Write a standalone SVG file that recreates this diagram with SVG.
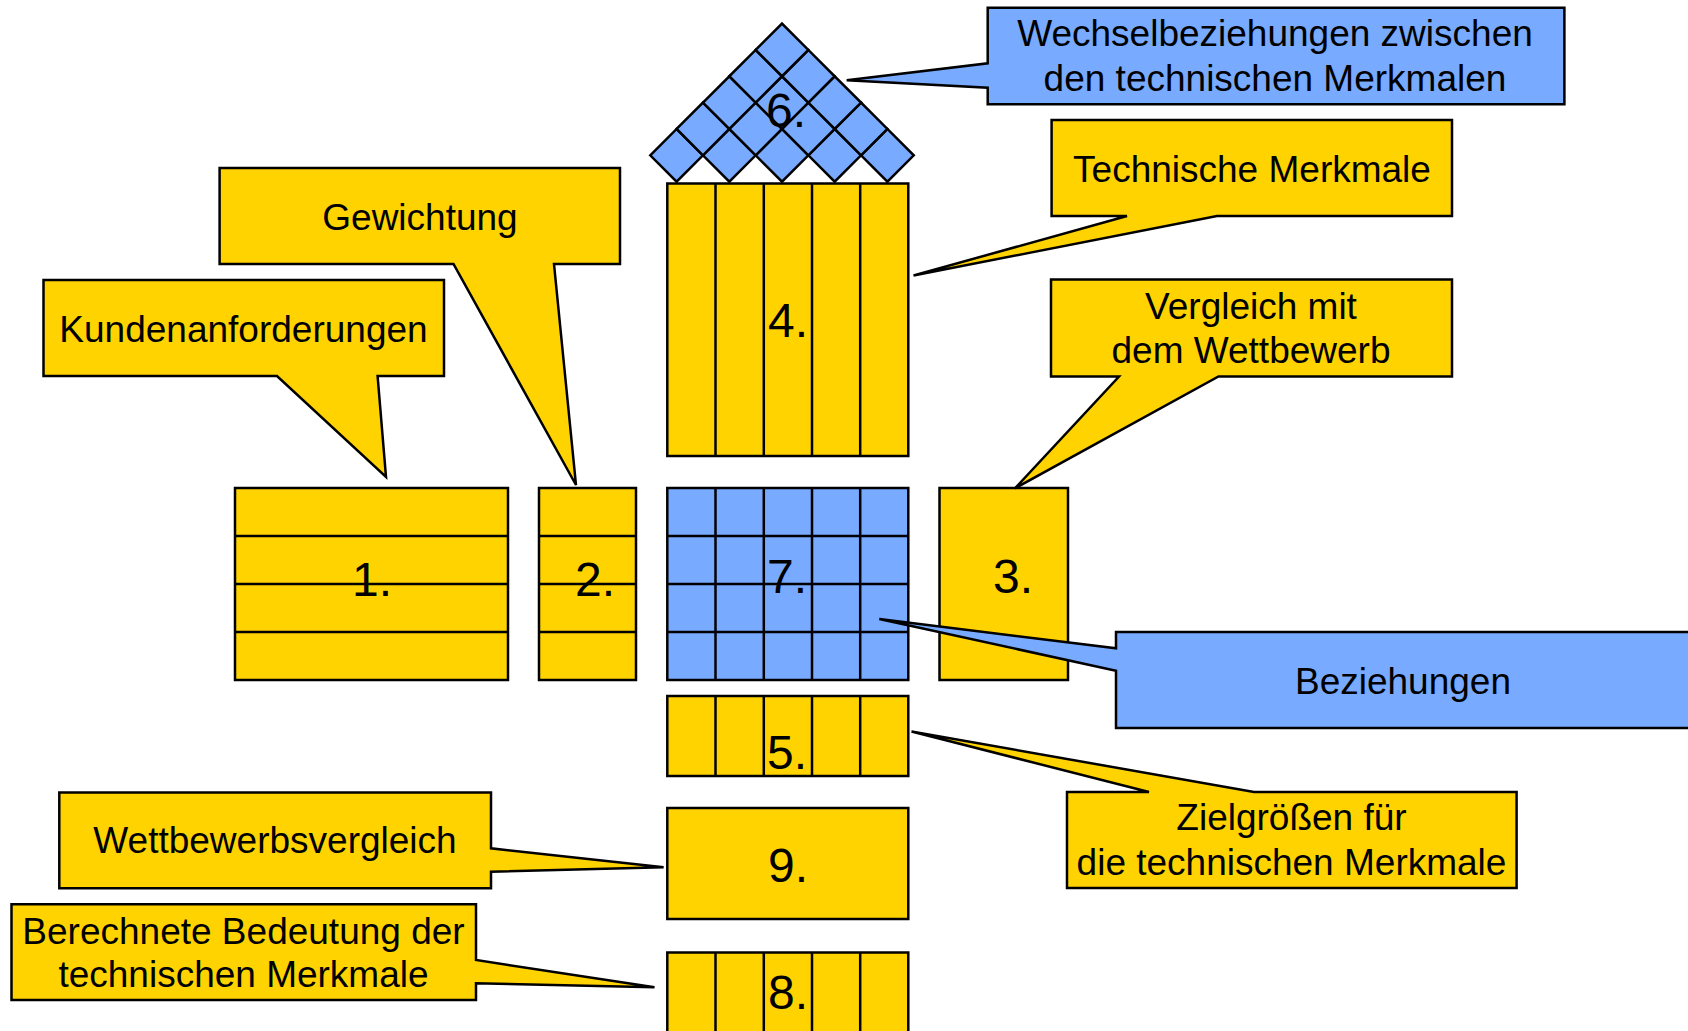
<svg xmlns="http://www.w3.org/2000/svg" xmlns:xlink="http://www.w3.org/1999/xlink" width="1688" height="1031" viewBox="0 0 1688 1031">
<style>
.y{fill:#FFD300;stroke:#000;stroke-width:2.5;stroke-linejoin:miter}
.b{fill:#78AAFF;stroke:#000;stroke-width:2.5;stroke-linejoin:miter}
.ln{stroke:#000;stroke-width:2.5;fill:none}
.t{font-family:"Liberation Sans",Arial,sans-serif;font-size:37px;fill:#000;text-anchor:middle}
.n{font-family:"Liberation Sans",Arial,sans-serif;font-size:48px;fill:#000;text-anchor:middle}
</style>
<defs>
<path id="dm" class="b" d="M-26.35,0 L0,-26.35 L26.35,0 L0,26.35 Z"/>
</defs>
<rect width="1688" height="1031" fill="#fff"/>

<g id="node6">
<use xlink:href="#dm" x="676.6" y="155.3"/>
<use xlink:href="#dm" x="729.3" y="155.3"/>
<use xlink:href="#dm" x="782" y="155.3"/>
<use xlink:href="#dm" x="834.7" y="155.3"/>
<use xlink:href="#dm" x="887.4" y="155.3"/>
<use xlink:href="#dm" x="702.95" y="128.95"/>
<use xlink:href="#dm" x="755.65" y="128.95"/>
<use xlink:href="#dm" x="808.35" y="128.95"/>
<use xlink:href="#dm" x="861.05" y="128.95"/>
<use xlink:href="#dm" x="729.3" y="102.6"/>
<use xlink:href="#dm" x="782" y="102.6"/>
<use xlink:href="#dm" x="834.7" y="102.6"/>
<use xlink:href="#dm" x="755.65" y="76.25"/>
<use xlink:href="#dm" x="808.35" y="76.25"/>
<use xlink:href="#dm" x="782" y="49.9"/>
<text class="n" x="786" y="127">6.</text>
</g>

<g id="node4">
<rect class="y" x="667.3" y="183.5" width="241" height="272.5"/>
<path class="ln" d="M715.5,183.5V456 M763.8,183.5V456 M812,183.5V456 M860.2,183.5V456"/>
<text class="n" x="788" y="337">4.</text>
</g>

<g id="node1">
<rect class="y" x="235" y="488" width="273" height="192"/>
<path class="ln" d="M235,536H508 M235,584H508 M235,632H508"/>
<text class="n" x="372" y="596">1.</text>
</g>

<g id="node2">
<rect class="y" x="539" y="488" width="97" height="192"/>
<path class="ln" d="M539,536H636 M539,584H636 M539,632H636"/>
<text class="n" x="595" y="596">2.</text>
</g>

<g id="node7">
<rect class="b" x="667.3" y="488" width="241" height="192"/>
<path class="ln" d="M715.5,488V680 M763.8,488V680 M812,488V680 M860.2,488V680 M667.3,536H908.3 M667.3,584H908.3 M667.3,632H908.3"/>
<text class="n" x="787" y="593">7.</text>
</g>

<g id="node3">
<rect class="y" x="939.5" y="488" width="128.5" height="192"/>
<text class="n" x="1013" y="593">3.</text>
</g>

<g id="node5">
<rect class="y" x="667.3" y="696" width="241" height="80"/>
<path class="ln" d="M715.5,696V776 M763.8,696V776 M812,696V776 M860.2,696V776"/>
<text class="n" x="787" y="769">5.</text>
</g>

<g id="node9">
<rect class="y" x="667.3" y="808" width="241" height="111"/>
<text class="n" x="788" y="882">9.</text>
</g>

<g id="node8">
<rect class="y" x="667.3" y="952.5" width="241" height="90"/>
<path class="ln" d="M715.5,952.5V1042 M763.8,952.5V1042 M812,952.5V1042 M860.2,952.5V1042"/>
<text class="n" x="788" y="1009">8.</text>
</g>

<g id="connectors"></g>

<g id="callout-kunden">
<path class="y" d="M43.5,280 H444 V376 H377.6 L386,477 L277,376 H43.5 Z"/>
<text class="t" x="243.5" y="342">Kundenanforderungen</text>
</g>

<g id="callout-gewichtung">
<path class="y" d="M219.6,168 H620 V264 H554 L576,485 L453.5,264 H219.6 Z"/>
<text class="t" x="420" y="230">Gewichtung</text>
</g>

<g id="callout-technische">
<path class="y" d="M1051.6,120 H1452 V216 H1217 L913.5,275.5 L1127,216 H1051.6 Z"/>
<text class="t" x="1252" y="182">Technische Merkmale</text>
</g>

<g id="callout-wechsel">
<path class="b" d="M987.7,7.7 H1564.4 V104.3 H987.7 V87.7 L846.7,80.3 L987.7,63.3 Z"/>
<text class="t" x="1275" y="46">Wechselbeziehungen zwischen</text>
<text class="t" x="1275" y="91">den technischen Merkmalen</text>
</g>

<g id="callout-vergleich">
<path class="y" d="M1051,279.5 H1452 V376.5 H1218.5 L1015,488.3 L1119,376.5 H1051 Z"/>
<text class="t" x="1251" y="318.5">Vergleich mit</text>
<text class="t" x="1251" y="363">dem Wettbewerb</text>
</g>

<g id="callout-beziehungen">
<path class="b" d="M1116,632 H1692 V728 H1116 V670.7 L879.3,619 L1116,648.3 Z"/>
<text class="t" x="1403" y="693.5">Beziehungen</text>
</g>

<g id="callout-zielgroessen">
<path class="y" d="M1067,792 H1149 L911.5,731.5 L1254,792 H1516.6 V888 H1067 Z"/>
<text class="t" x="1291.5" y="830">Zielgrößen für</text>
<text class="t" x="1291.5" y="875">die technischen Merkmale</text>
</g>

<g id="callout-wettbewerbsvergleich">
<path class="y" d="M59.3,792.5 H491 V848.3 L663.6,867.3 L491,871.7 V888.3 H59.3 Z"/>
<text class="t" x="275" y="853">Wettbewerbsvergleich</text>
</g>

<g id="callout-berechnete">
<path class="y" d="M11.5,904.3 H476 V960 L654.5,987.3 L476,983.3 V1000 H11.5 Z"/>
<text class="t" x="243.5" y="944">Berechnete Bedeutung der</text>
<text class="t" x="243.5" y="987">technischen Merkmale</text>
</g>
</svg>
